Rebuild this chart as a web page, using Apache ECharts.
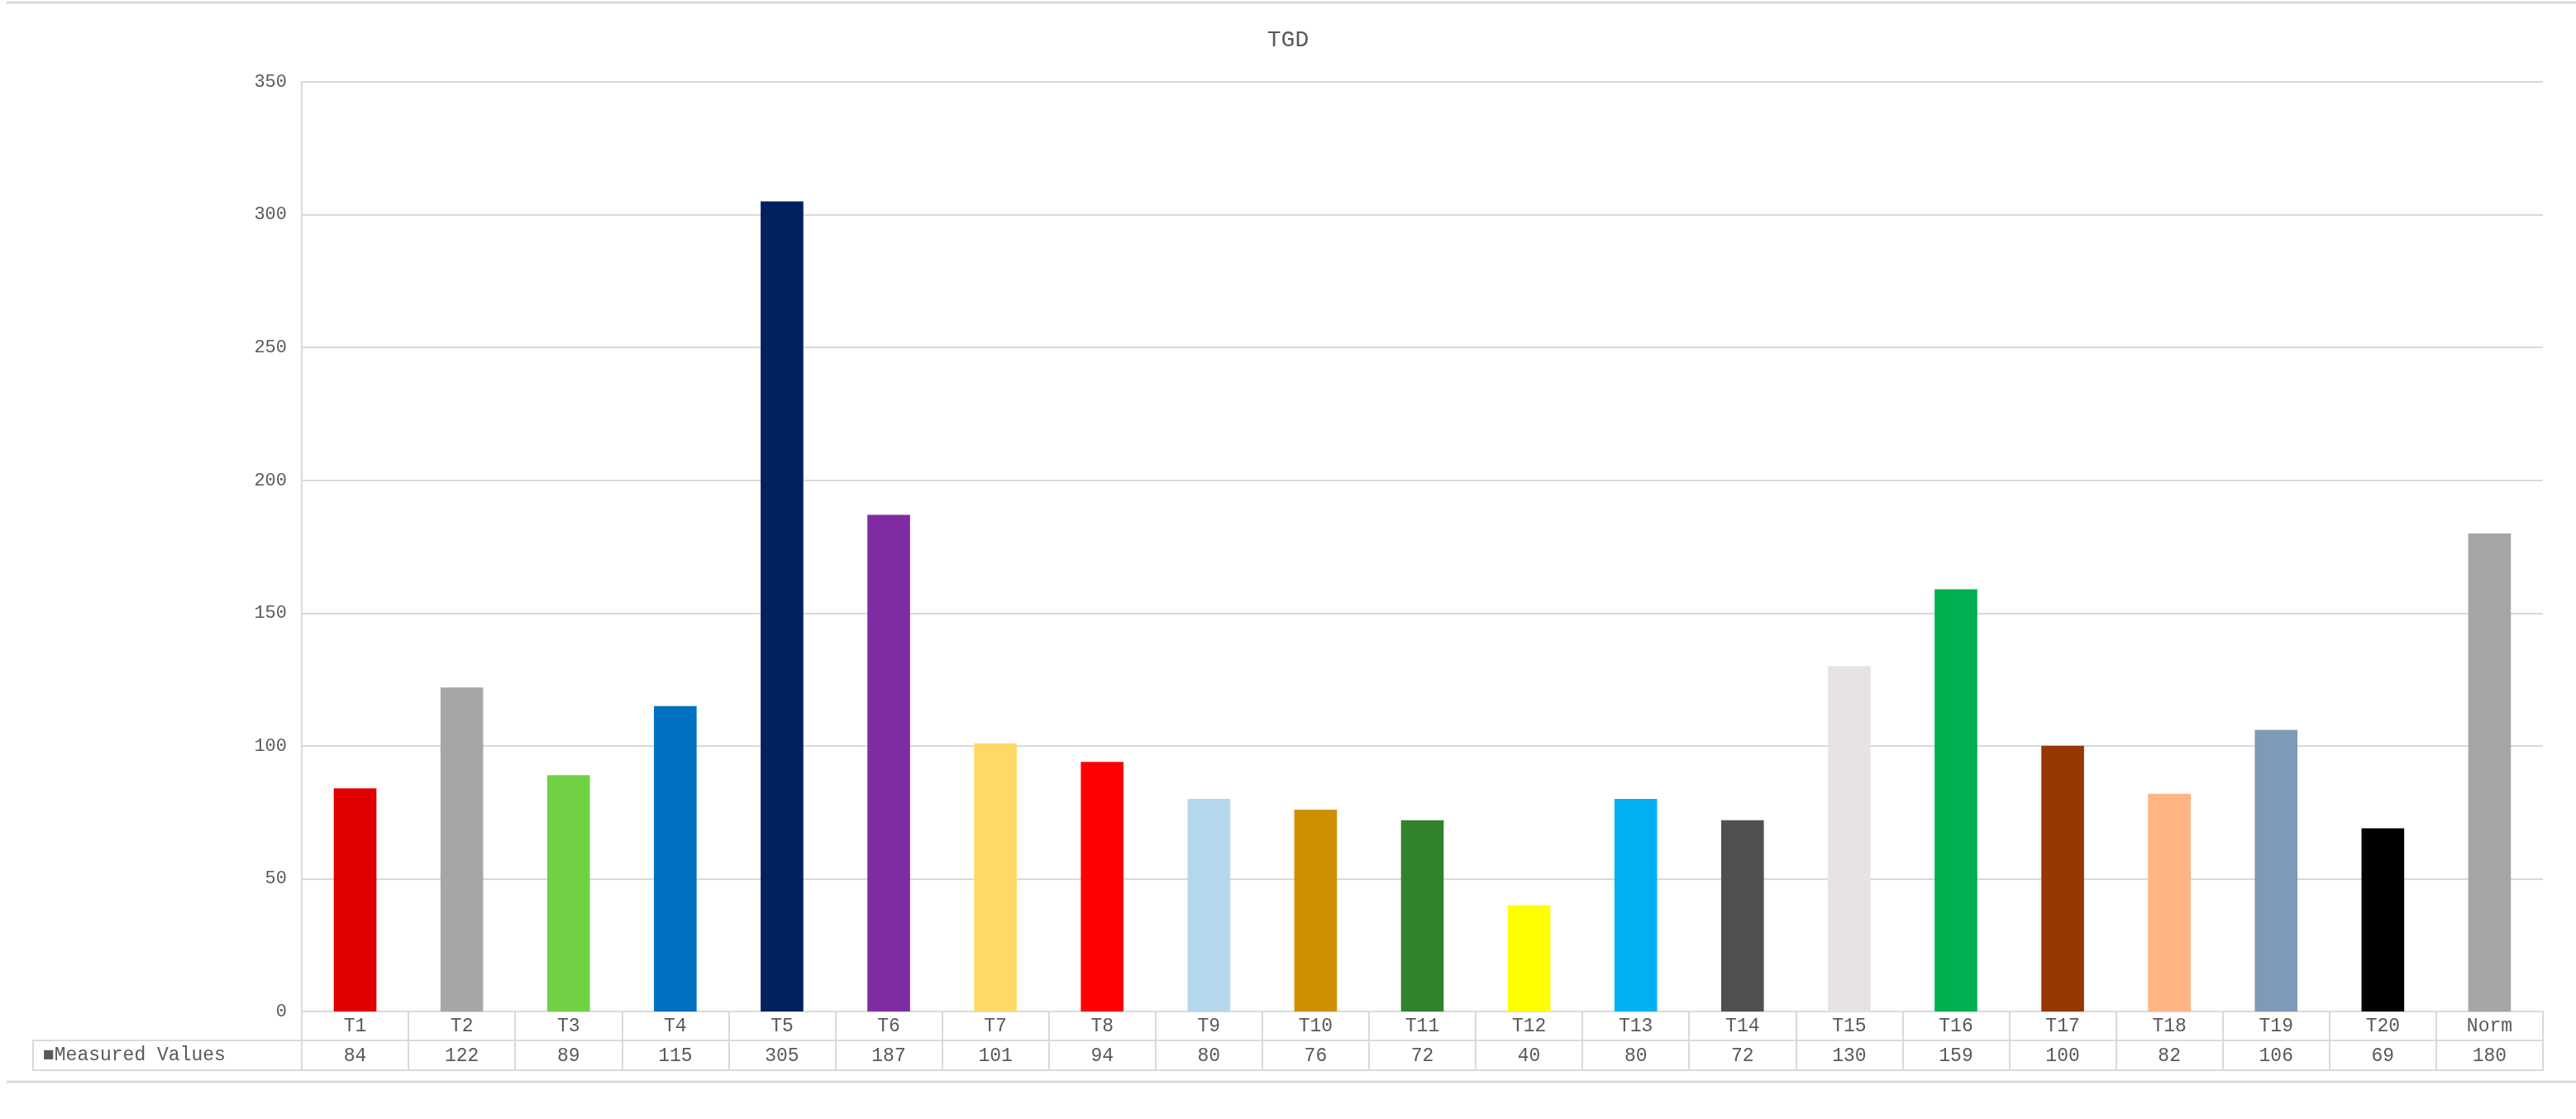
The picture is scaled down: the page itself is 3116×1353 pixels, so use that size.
<!DOCTYPE html>
<html>
<head>
<meta charset="utf-8">
<script src="https://cdn.jsdelivr.net/npm/echarts@6/dist/echarts.min.js"></script>
<style>html,body{margin:0;background:#fff}#box{width:3116px;height:1353px}</style>
</head>
<body>
<div id="box"></div>
<script>
const categories = ['T1','T2','T3','T4','T5','T6','T7','T8','T9','T10','T11','T12','T13','T14','T15','T16','T17','T18','T19','T20','Norm'];
const values = [84,122,89,115,305,187,101,94,80,76,72,40,80,72,130,159,100,82,106,69,180];
const colors = ['#e00000','#a6a6a6','#70d144','#0070c0','#002060','#7f2ca3','#ffd966','#ff0000','#b4d7ee','#cc9000',
  '#31822c','#ffff00','#00b0f0','#505050','#e7e3e3','#00b050','#963700','#ffb482','#7e9ab6','#000000','#a6a6a6'];
const yTicks = [0,50,100,150,200,250,300,350];

const font = 'Liberation Mono, Courier New, monospace';
const txt = '#595959';
const line = '#d9d9d9';

let myChart = echarts.init(document.getElementById('box'));
let option = {
    animation: false,
    title: {
        text: 'TGD', left: 'center', top: 30,
        textStyle: { fontFamily: font, fontSize: 28, fontWeight: 'normal', color: txt }
    },
    grid: { left: 365, right: 40, top: 99, bottom: 130 },
    yAxis: {
        type: 'value', min: yTicks[0], max: yTicks[yTicks.length - 1], interval: 50,
        axisLine: { show: true, lineStyle: { color: line, width: 2 } },
        axisTick: { show: false },
        axisLabel: { fontFamily: font, fontSize: 22, color: txt, margin: 18 },
        splitLine: { lineStyle: { color: line, width: 2 } }
    },
    xAxis: [
        {
            type: 'category', data: categories, position: 'bottom',
            axisLine: { lineStyle: { color: line, width: 2 } },
            axisTick: { show: true, interval: 0, length: 35, lineStyle: { color: line, width: 2 } },
            axisLabel: { fontFamily: font, fontSize: 23, color: txt, margin: 6, interval: 0 }
        },
        {
            type: 'category', data: values.map(String), position: 'bottom', offset: 35,
            axisLine: { lineStyle: { color: line, width: 2 } },
            axisTick: { show: true, interval: 0, length: 36, lineStyle: { color: line, width: 2 } },
            axisLabel: { fontFamily: font, fontSize: 23, color: txt, margin: 7, interval: 0 }
        },
        {
            type: 'category', data: categories, position: 'bottom', offset: 71,
            axisLine: { lineStyle: { color: line, width: 2 } },
            axisTick: { show: false }, axisLabel: { show: false }
        }
    ],
    series: [{
        type: 'bar', xAxisIndex: 0, barCategoryGap: '60%',
        data: values.map((v, i) => ({ value: v, itemStyle: { color: colors[i] } }))
    }],
    graphic: [
        { type: 'rect', shape: { x: 40, y: 1258, width: 325, height: 36 }, style: { fill: 'none', stroke: line, lineWidth: 2 } },
        { type: 'text', x: 52, y: 1276, style: { text: '■Measured Values', fontFamily: font, fontSize: 23, fill: txt, verticalAlign: 'middle' } },
        { type: 'line', shape: { x1: 8, y1: 1308, x2: 3116, y2: 1308 }, style: { stroke: line, lineWidth: 3 } },
        { type: 'line', shape: { x1: 8, y1: 3, x2: 3116, y2: 3 }, style: { stroke: line, lineWidth: 3 } }
    ]
};
myChart.setOption(option);
</script>
</body>
</html>
